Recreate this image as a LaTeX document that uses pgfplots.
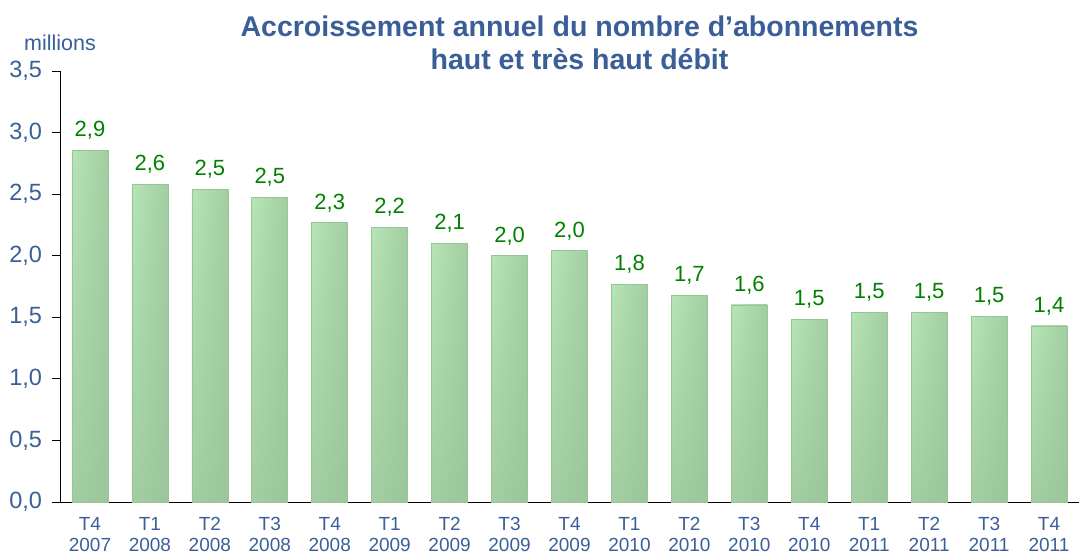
\documentclass[border=0pt]{standalone}
\usepackage{fontspec}
\setmainfont{Liberation Sans}
\usepackage{pgfplots}
\pgfplotsset{compat=1.18}
\definecolor{axblue}{RGB}{58,94,152}
\definecolor{lblgreen}{RGB}{0,128,0}
\definecolor{baredge}{RGB}{150,198,150}
% bars: light green at the top left, darker green to the right and bottom
\pgfdeclarefunctionalshading{barshade}{\pgfpoint{-50bp}{-50bp}}{\pgfpoint{50bp}{50bp}}{}{
  50 add 100 div exch 50 add 100 div 1 exch sub mul
  dup 0.204 mul 0.596 add exch
  dup 0.239 mul 0.761 add exch
  0.204 mul 0.596 add
}
\pgfplotsset{
  onebar/.style={bar shift=0pt, draw=baredge, line width=0.6pt, shading=barshade,
    nodes near coords,
    every node near coord/.append style={text=lblgreen, font=\fontsize{22}{24}\selectfont, yshift=7pt,
        /pgf/number format/.cd, use comma, fixed, fixed zerofill, precision=1, assume math mode=true}},
}
\begin{document}
\begin{tikzpicture}
\begin{axis}[
    at={(0,0)}, anchor=south west,
    scale only axis,
    width=1019pt, height=431pt,
    xmin=-0.5, xmax=16.5,
    ymin=0, ymax=3.5,
    ytick={0,0.5,...,3.5},
    xtick={0,...,16},
    xticklabels={T4\\2007,T1\\2008,T2\\2008,T3\\2008,T4\\2008,T1\\2009,T2\\2009,T3\\2009,T4\\2009,T1\\2010,T2\\2010,T3\\2010,T4\\2010,T1\\2011,T2\\2011,T3\\2011,T4\\2011},
    xticklabel style={align=center, text=axblue, font=\fontsize{19}{21}\selectfont, yshift=-4pt},
    yticklabel style={text=axblue, font=\fontsize{23.5}{26}\selectfont},
    x tick style={draw=none},
    extra x ticks={-0.5,0.5,...,16.5},
    extra x tick labels={},
    extra x tick style={tick style={draw=black, line width=0.8pt}},
    tick align=outside,
    major tick length=7.5pt,
    y tick style={black, line width=0.8pt},
    axis lines*=left,
    axis line style={line width=0.8pt},
    /pgf/number format/.cd, use comma, fixed, fixed zerofill, precision=1, assume math mode=true,
    /pgfplots/.cd,
    yticklabel style={xshift=-7pt},
    ybar, bar width=36pt,
    clip=false,
]
\addplot[onebar] coordinates {(0,2.857)};
\addplot[onebar] coordinates {(1,2.58)};
\addplot[onebar] coordinates {(2,2.54)};
\addplot[onebar] coordinates {(3,2.476)};
\addplot[onebar] coordinates {(4,2.27)};
\addplot[onebar] coordinates {(5,2.23)};
\addplot[onebar] coordinates {(6,2.10)};
\addplot[onebar] coordinates {(7,2.00)};
\addplot[onebar] coordinates {(8,2.04)};
\addplot[onebar] coordinates {(9,1.77)};
\addplot[onebar] coordinates {(10,1.68)};
\addplot[onebar] coordinates {(11,1.60)};
\addplot[onebar] coordinates {(12,1.486)};
\addplot[onebar] coordinates {(13,1.54)};
\addplot[onebar] coordinates {(14,1.54)};
\addplot[onebar] coordinates {(15,1.51)};
\addplot[onebar] coordinates {(16,1.43)};
\node[text=axblue, font=\fontsize{21.5}{24}\selectfont] at (rel axis cs:0,1) [yshift=28pt] {millions};
\node[anchor=south, align=center, inner sep=0pt, text=axblue, font=\bfseries\fontsize{28.5}{33}\selectfont]
    at (rel axis cs:0.5,1) [yshift=1pt, xshift=10pt] {Accroissement annuel du nombre d'abonnements\\haut et très haut débit};
\end{axis}
\pgfresetboundingbox
\path[use as bounding box] (-60pt,-55pt) rectangle (1019pt,502pt);
\end{tikzpicture}
\end{document}
